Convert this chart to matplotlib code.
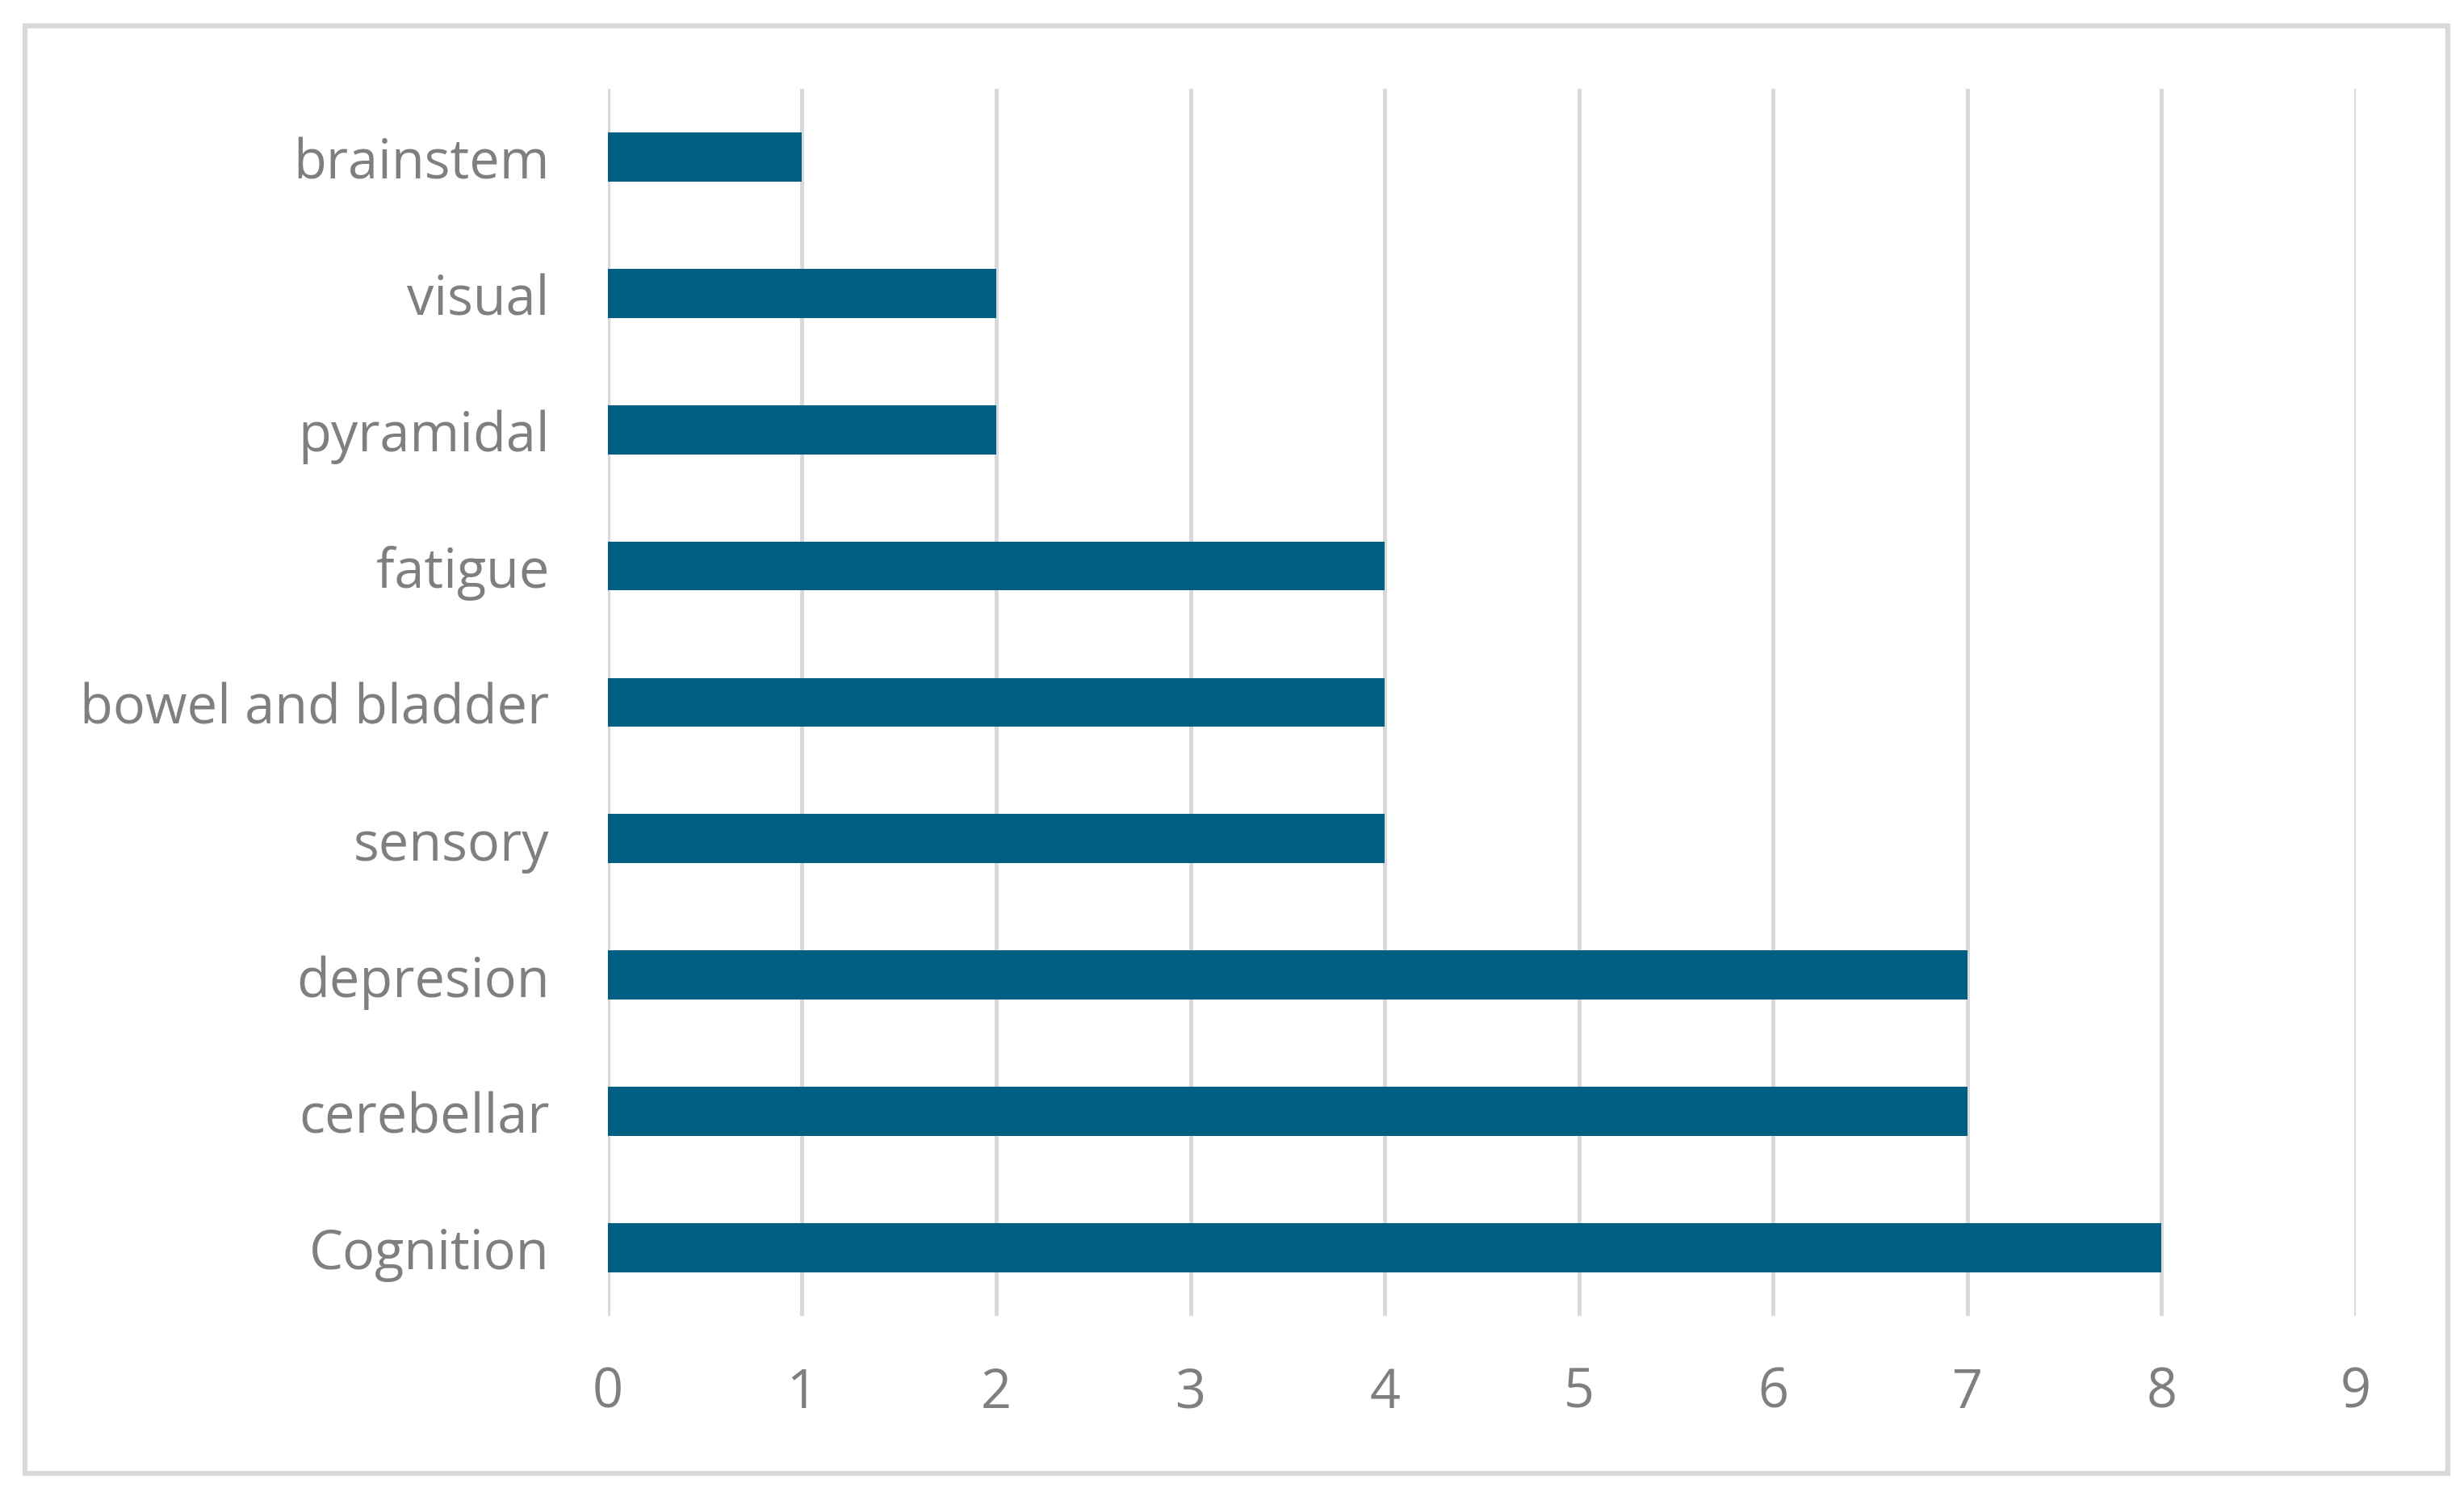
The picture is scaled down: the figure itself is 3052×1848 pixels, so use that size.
import matplotlib
matplotlib.use("Agg")
import matplotlib.pyplot as plt
from matplotlib.patches import Rectangle

# data, bottom to top as drawn
categories = ["Cognition", "cerebellar", "depresion", "sensory", "bowel and bladder",
              "fatigue", "pyramidal", "visual", "brainstem"]
counts = [8, 7, 7, 4, 4, 4, 2, 2, 1]
xticks = list(range(0, 10))

bar_color = "#005F83"
grid_color = "#D9D9D9"
text_color = "#7F7F7F"

plt.rcParams['font.family'] = ['Open Sans', 'DejaVu Sans']

fig = plt.figure(figsize=(30.52, 18.49), dpi=100)
ax = fig.add_axes([0.2467, 0.1179, 0.9561 - 0.2467, 0.940 - 0.1179])

ypos = list(range(len(categories)))
ax.barh(ypos, counts, height=0.36, color=bar_color, zorder=3)

ax.set_xlim(0, 9)
ax.set_ylim(-0.5, len(categories) - 0.5)
ax.set_xticks(xticks)
ax.set_xticklabels([str(t) for t in xticks])
ax.set_yticks(ypos)
ax.set_yticklabels(categories)

ax.grid(axis='x', color=grid_color, linewidth=3.6, zorder=0)
ax.set_axisbelow(True)
for s in ax.spines.values():
    s.set_visible(False)
ax.tick_params(axis='both', length=0, labelsize=48, labelcolor=text_color)
ax.tick_params(axis='y', pad=52)
ax.tick_params(axis='x', pad=44)

# outer chart border
fig.patches.append(Rectangle((0.0102, 0.0124), 0.9934 - 0.0102, 0.982 - 0.0124,
                             transform=fig.transFigure, fill=False,
                             edgecolor=grid_color, linewidth=4.5))

fig.savefig("out.png", dpi=100, facecolor="white")
